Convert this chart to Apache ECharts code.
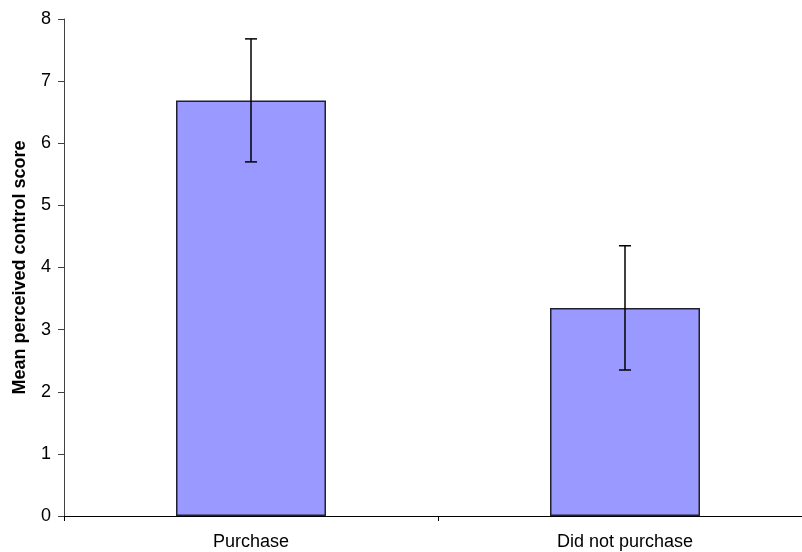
<!DOCTYPE html>
<html>
<head>
<meta charset="utf-8">
<script src="https://cdn.jsdelivr.net/npm/echarts@6/dist/echarts.min.js"></script>
<style>html,body{margin:0;padding:0;background:#fff;overflow:hidden;width:802px;height:552px}#c{width:812px;height:552px}</style>
</head>
<body>
<div id="c"></div>
<script>
var categories = ["Purchase", "Did not purchase"];
var means = [6.69, 3.35];
var errors = [0.99, 1.0];
var yTicks = [0, 1, 2, 3, 4, 5, 6, 7, 8];

var errData = categories.map(function (c, i) { return [i, means[i] - errors[i], means[i] + errors[i]]; });

var chart = echarts.init(document.getElementById('c'), null, { renderer: 'canvas' });
chart.setOption({
  animation: false,
  backgroundColor: '#fff',
  grid: { left: 64, top: 19, right: 0, bottom: 36, containLabel: false },
  xAxis: {
    type: 'category',
    data: categories,
    boundaryGap: true,
    axisLine: { lineStyle: { color: '#000', width: 1 } },
    axisTick: { show: true, length: 5, lineStyle: { color: '#000' } },
    axisLabel: { color: '#000', fontFamily: 'Liberation Sans, Arial', fontSize: 18, margin: 17 }
  },
  yAxis: {
    type: 'value',
    min: yTicks[0],
    max: yTicks[yTicks.length - 1],
    interval: 1,
    name: 'Mean perceived control score',
    nameLocation: 'middle',
    nameGap: 35,
    nameTextStyle: { color: '#000', fontFamily: 'Liberation Sans, Arial', fontSize: 18, fontWeight: 'bold' },
    axisLine: { show: true, lineStyle: { color: '#404040', width: 1 } },
    axisTick: { show: true, length: 6, lineStyle: { color: '#404040' } },
    axisLabel: { color: '#000', fontFamily: 'Liberation Sans, Arial', fontSize: 18, margin: 13 },
    splitLine: { show: false }
  },
  series: [
    {
      type: 'bar',
      data: means,
      barWidth: 150,
      itemStyle: { color: '#9999FF', borderColor: '#202030', borderWidth: 1.5 }
    },
    {
      type: 'custom',
      data: errData,
      z: 10,
      renderItem: function (params, api) {
        var x = api.value(0);
        var lo = api.coord([x, api.value(1)]);
        var hi = api.coord([x, api.value(2)]);
        var hw = 6;
        var st = { stroke: '#000', lineWidth: 1.5 };
        return {
          type: 'group',
          children: [
            { type: 'line', shape: { x1: hi[0], y1: hi[1], x2: lo[0], y2: lo[1] }, style: st },
            { type: 'line', shape: { x1: hi[0] - hw, y1: hi[1], x2: hi[0] + hw, y2: hi[1] }, style: st },
            { type: 'line', shape: { x1: lo[0] - hw, y1: lo[1], x2: lo[0] + hw, y2: lo[1] }, style: st }
          ]
        };
      }
    }
  ]
});
</script>
</body>
</html>
